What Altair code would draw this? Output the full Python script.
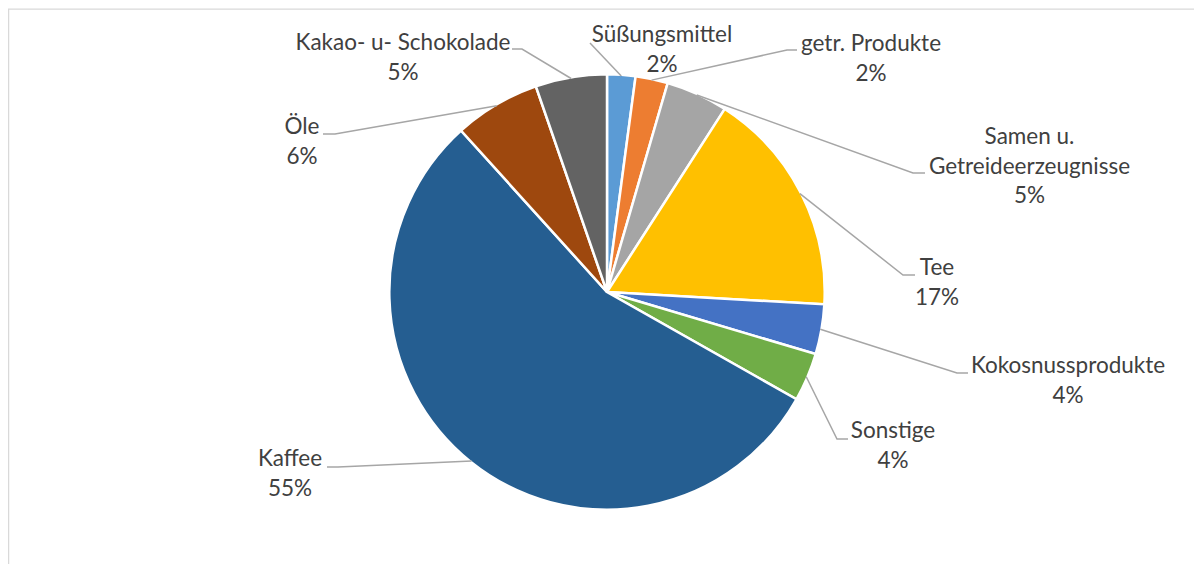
import math
import altair as alt
import pandas as pd

# ---- data -------------------------------------------------------------
categories = ["Süßungsmittel", "getr. Produkte", "Samen u. Getreideerzeugnisse", "Tee",
              "Kokosnussprodukte", "Sonstige", "Kaffee", "Öle", "Kakao- u- Schokolade"]
values = [2.1, 2.4, 4.6, 16.8, 3.7, 3.6, 55.1, 6.4, 5.3]
label_lines = [["Süßungsmittel"], ["getr. Produkte"], ["Samen u.", "Getreideerzeugnisse"],
               ["Tee"], ["Kokosnussprodukte"], ["Sonstige"], ["Kaffee"], ["Öle"],
               ["Kakao- u- Schokolade"]]
colors = ["#5B9BD5", "#ED7D31", "#A5A5A5", "#FFC000", "#4472C4", "#70AD47",
          "#255E91", "#9E480E", "#636363"]

# ---- layout (pixels relative to pie centre, y downwards) --------------
label_x = [55, 264, 422.5, 330, 461, 286, -317, -305, -204]
label_y = [-257, -248, -155, -24, 74, 139, 167, -165, -249]
leader_x = [-17, 190, 318, 308, 361, 241, -280, -284, -95]
leader_y = [-249, -242, -119, -17, 81, 147, 175, -158, -243]
leader_stub = [0, -10, -12, -12, -11, -11, 11, 12, 10]

W, H = 1186, 556
CX, CY = 599, 284
R = 216.5
LINE_H = 29.5

total = sum(values)
pie_df = pd.DataFrame({"category": categories, "value": values, "idx": range(len(values))})

rows = []
cum = 0.0
for i, (c, v) in enumerate(zip(categories, values)):
    ang = 2 * math.pi * (cum + v / 2) / total
    cum += v
    pts = [(R * math.sin(ang), -R * math.cos(ang)),
           (leader_x[i] + leader_stub[i], leader_y[i]),
           (leader_x[i], leader_y[i])]
    for s, (px, py) in enumerate(pts):
        rows.append({"category": c, "step": s, "x": px, "y": py})
leader_df = pd.DataFrame(rows)

trows = []
for i, c in enumerate(categories):
    lines = label_lines[i] + [f"{round(values[i] / total * 100)}%"]
    for j, t in enumerate(lines):
        trows.append({"category": c, "text": t, "x": label_x[i], "y": label_y[i] + j * LINE_H})
text_df = pd.DataFrame(trows)

xs = alt.Scale(domain=[-CX, W - CX], nice=False, zero=False)
ys = alt.Scale(domain=[-CY, H - CY], reverse=True, nice=False, zero=False)

one = pd.DataFrame({"a": [0]})
frame_left = alt.Chart(one).mark_rule(color="#D9D9D9", strokeWidth=1.3).encode(
    x=alt.value(0.6), y=alt.value(1), y2=alt.value(H))
frame_top = alt.Chart(one).mark_rule(color="#D9D9D9", strokeWidth=1.3).encode(
    x=alt.value(0), x2=alt.value(W), y=alt.value(1.2))

pie = alt.Chart(pie_df).mark_arc(outerRadius=R + 1.2, stroke="white", strokeWidth=2.5).encode(
    x=alt.XDatum(0, type="quantitative", scale=xs, axis=None),
    y=alt.YDatum(0, type="quantitative", scale=ys, axis=None),
    theta=alt.Theta("value:Q", stack=True),
    order=alt.Order("idx:Q"),
    color=alt.Color("category:N", scale=alt.Scale(domain=categories, range=colors), legend=None),
)

leaders = alt.Chart(leader_df).mark_line(color="#A6A6A6", strokeWidth=1.5).encode(
    x=alt.X("x:Q", scale=xs, axis=None),
    y=alt.Y("y:Q", scale=ys, axis=None),
    detail="category:N",
    order="step:Q",
)

labels = alt.Chart(text_df).mark_text(font="Lato", fontSize=22.5, color="#404040",
                                      align="center", baseline="middle").encode(
    x=alt.X("x:Q", scale=xs, axis=None),
    y=alt.Y("y:Q", scale=ys, axis=None),
    text="text:N",
)

chart = alt.layer(frame_left, frame_top, pie, leaders, labels).properties(
    width=W, height=H, padding=0, autosize="none"
).configure_view(stroke=None)

chart.save("out.html", embed_options={"renderer": "svg", "actions": False})
